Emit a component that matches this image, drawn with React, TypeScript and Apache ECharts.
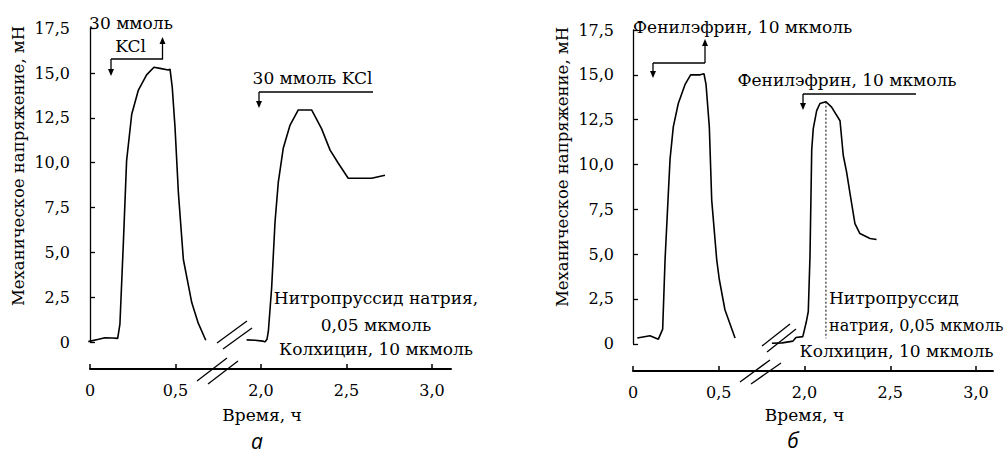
import React, { useEffect, useRef } from "react";
import * as echarts from "echarts";

// ---- data (time in hours, force in mN) ----
const yTickValues = [0, 2.5, 5, 7.5, 10, 12.5, 15, 17.5];
const xTickPositions = [0, 0.5, 1, 1.5, 2];
const xTickLabels = ["0", "0,5", "2,0", "2,5", "3,0"];
const breakShift = 1.0; // hours removed by the axis break (0.5…2.0 shown adjacent)

// Panel а — KCl
const aSeg1Time = [-0.01, 0.05, 0.088, 0.13, 0.162, 0.175, 0.195, 0.214, 0.244, 0.283, 0.331, 0.374, 0.409, 0.458, 0.468, 0.481, 0.497, 0.517, 0.546, 0.595, 0.633, 0.677];
const aSeg1Force = [0.02, 0.15, 0.24, 0.22, 0.2, 1.0, 5.5, 10.1, 12.7, 14.05, 14.9, 15.32, 15.26, 15.17, 15.22, 14.2, 12.0, 8.3, 4.6, 2.2, 1.05, 0.1];
const aSeg2Time = [1.916, 1.965, 2.01, 2.023, 2.035, 2.043, 2.062, 2.082, 2.101, 2.13, 2.17, 2.218, 2.296, 2.354, 2.404, 2.452, 2.51, 2.647, 2.686, 2.725];
const aSeg2Force = [0.12, 0.1, 0.05, 0.0, 0.15, 0.6, 3.0, 6.7, 8.9, 10.8, 12.1, 12.94, 12.94, 11.9, 10.7, 9.97, 9.13, 9.13, 9.22, 9.3];

// Panel б — phenylephrine
const bSeg1Time = [0.025, 0.099, 0.148, 0.173, 0.187, 0.206, 0.216, 0.235, 0.264, 0.303, 0.336, 0.391, 0.414, 0.426, 0.445, 0.459, 0.488, 0.503, 0.536, 0.595];
const bSeg1Force = [0.32, 0.45, 0.26, 0.82, 4.7, 8.4, 10.3, 12.1, 13.4, 14.45, 15.0, 15.0, 15.06, 14.45, 12.1, 8.0, 4.7, 3.6, 1.9, 0.32];
const bSeg2Time = [1.81, 1.87, 1.933, 1.95, 1.99, 2.01, 2.022, 2.032, 2.042, 2.051, 2.071, 2.09, 2.125, 2.158, 2.207, 2.226, 2.245, 2.265, 2.294, 2.323, 2.382, 2.42];
const bSeg2Force = [0.03, 0.05, 0.15, 0.35, 0.4, 1.2, 1.8, 4.9, 10.8, 12.0, 13.0, 13.4, 13.5, 13.2, 12.44, 10.5, 9.6, 8.4, 6.7, 6.15, 5.87, 5.82];
const bMarkerTime = [2.125, 2.125];
const bMarkerForce = [13.5, 0.3];

const SERIF = "'DejaVu Serif', 'Liberation Serif', serif";

const toAxis = (t: number) => (t > 1.2 ? t - breakShift : t);
const pairs = (ts: number[], vs: number[]) => ts.map((t, i) => [toAxis(t), vs[i]]);

const fmtY = (v: number) => (v === 0 ? "0" : v.toFixed(1).replace(".", ","));
const fmtX = (v: number) => {
  const i = xTickPositions.findIndex((p) => Math.abs(p - v) < 1e-6);
  return i >= 0 ? xTickLabels[i] : "";
};

function text(x: number, y: number, t: string, align = "center", size = 17, extra: any = {}) {
  return {
    type: "text",
    x,
    y,
    silent: true,
    ...extra,
    style: {
      text: t,
      fill: "#000",
      font: `${size}px ${SERIF}`,
      align,
      verticalAlign: "middle",
      ...(extra.style || {}),
    },
  };
}

function line(x1: number, y1: number, x2: number, y2: number, w = 1.3) {
  return { type: "line", silent: true, shape: { x1, y1, x2, y2 }, style: { stroke: "#000", lineWidth: w } };
}

function vArrow(x: number, yFrom: number, yTip: number) {
  const dir = yTip > yFrom ? 1 : -1;
  return [
    line(x, yFrom, x, yTip - dir * 5),
    {
      type: "polygon",
      silent: true,
      shape: { points: [[x - 3, yTip - dir * 7], [x + 3, yTip - dir * 7], [x, yTip]] },
      style: { fill: "#000" },
    },
  ];
}

function panelLabel(x: number, y: number, t: string) {
  return {
    type: "text",
    x,
    y,
    silent: true,
    style: {
      text: t,
      fill: "#000",
      font: "italic 21px 'Open Sans', sans-serif",
      lineHeight: 21,
      align: "center",
      verticalAlign: "middle",
    },
  };
}

export default function App() {
  const ref = useRef<HTMLDivElement>(null);
  useEffect(() => {
    document.body.style.margin = "0";
    const chart = echarts.init(ref.current!, null, { renderer: "svg" });

    const dataYAxis = (gridIndex: number) => ({
      type: "value",
      gridIndex,
      min: 0,
      max: 17.5,
      interval: 2.5,
      axisLine: { show: true, lineStyle: { color: "#000", width: 1.3 } },
      axisTick: { show: true, inside: true, length: 5, lineStyle: { color: "#000", width: 1.3 } },
      axisLabel: { color: "#000", fontFamily: SERIF, fontSize: 16, margin: 9, formatter: fmtY },
      splitLine: { show: false },
    });
    const hiddenX = (gridIndex: number, min: number, max: number) => ({
      type: "value",
      gridIndex,
      min,
      max,
      show: false,
      splitLine: { show: false },
    });
    const timeX = (gridIndex: number, max: number) => ({
      type: "value",
      gridIndex,
      min: 0,
      max,
      position: "bottom",
      axisLine: { show: true, lineStyle: { color: "#000", width: 2 } },
      axisTick: { show: true, inside: true, length: 5, customValues: xTickPositions, lineStyle: { color: "#000", width: 1.5 } },
      axisLabel: { color: "#000", fontFamily: SERIF, fontSize: 16, margin: 13, customValues: xTickPositions, formatter: fmtX },
      splitLine: { show: false },
    });
    const hiddenY = (gridIndex: number) => ({ type: "value", gridIndex, show: false, min: 0, max: 1, splitLine: { show: false } });

    const curve = (xi: number, data: number[][], dashed = false) => ({
      type: "line",
      xAxisIndex: xi,
      yAxisIndex: xi,
      data,
      symbol: "none",
      silent: true,
      lineStyle: dashed ? { color: "#000", width: 1, type: [2, 2] } : { color: "#000", width: 1.6 },
    });

    const graphic: any[] = [
      // y axis names
      text(18, 166, "Механическое напряжение, мН", "center", 16.5, { rotation: Math.PI / 2 }),
      text(562, 167, "Механическое напряжение, мН", "center", 16.5, { rotation: Math.PI / 2 }),
      // x axis names
      text(262, 415, "Время, ч"),
      text(804.5, 415, "Время, ч"),
      // panel labels
      panelLabel(257, 441, "а"),
      panelLabel(793, 440, "б"),
      // panel а annotations
      text(131, 23, "30 ммоль"),
      text(130.5, 46, "KCl"),
      line(111, 59, 163, 59),
      ...vArrow(111, 59, 76),
      ...vArrow(162.5, 59, 37),
      text(312.5, 78, "30 ммоль KCl"),
      line(259, 92, 373, 92),
      ...vArrow(259, 92, 108),
      text(376, 298, "Нитропруссид натрия,"),
      text(376, 325, "0,05 мкмоль"),
      text(376, 349, "Колхицин, 10 мкмоль"),
      // panel а breaks
      line(217, 343, 247, 321),
      line(223, 349, 252, 328),
      line(197, 381, 227, 358),
      line(208, 384, 238, 361),
      // panel б annotations
      text(633, 27, "Фенилэфрин, 10 мкмоль", "left"),
      line(653, 63, 705, 63),
      ...vArrow(653, 63, 78),
      ...vArrow(705, 63, 39),
      text(847, 80, "Фенилэфрин, 10 мкмоль"),
      line(803, 94, 916, 94),
      ...vArrow(803, 94, 110),
      text(829, 298, "Нитропруссид", "left"),
      text(829, 325, "натрия, 0,05 мкмоль", "left", 16),
      text(896.5, 351, "Колхицин, 10 мкмоль"),
      // panel б breaks
      line(762, 346, 790, 324),
      line(767, 352, 796, 329),
      line(740, 382, 770, 360),
      line(751, 384, 781, 363),
    ];

    chart.setOption({
      animation: false,
      backgroundColor: "#fff",
      grid: [
        { left: 79, top: 28.2, width: 372, height: 313.8 },
        { left: 90, top: 368, width: 361, height: 1 },
        { left: 623, top: 30, width: 370, height: 313.8 },
        { left: 633, top: 370, width: 360, height: 1 },
      ],
      xAxis: [hiddenX(0, -0.0643, 2.111), timeX(1, 2.111), hiddenX(2, -0.0583, 2.099), timeX(3, 2.099)],
      yAxis: [dataYAxis(0), hiddenY(1), dataYAxis(2), hiddenY(3)],
      series: [
        curve(0, pairs(aSeg1Time, aSeg1Force)),
        curve(0, pairs(aSeg2Time, aSeg2Force)),
        curve(2, pairs(bSeg1Time, bSeg1Force)),
        curve(2, pairs(bSeg2Time, bSeg2Force)),
        curve(2, pairs(bMarkerTime, bMarkerForce), true),
      ],
      graphic,
    });
    return () => chart.dispose();
  }, []);
  return <div ref={ref} style={{ width: 1008, height: 456 }} />;
}
